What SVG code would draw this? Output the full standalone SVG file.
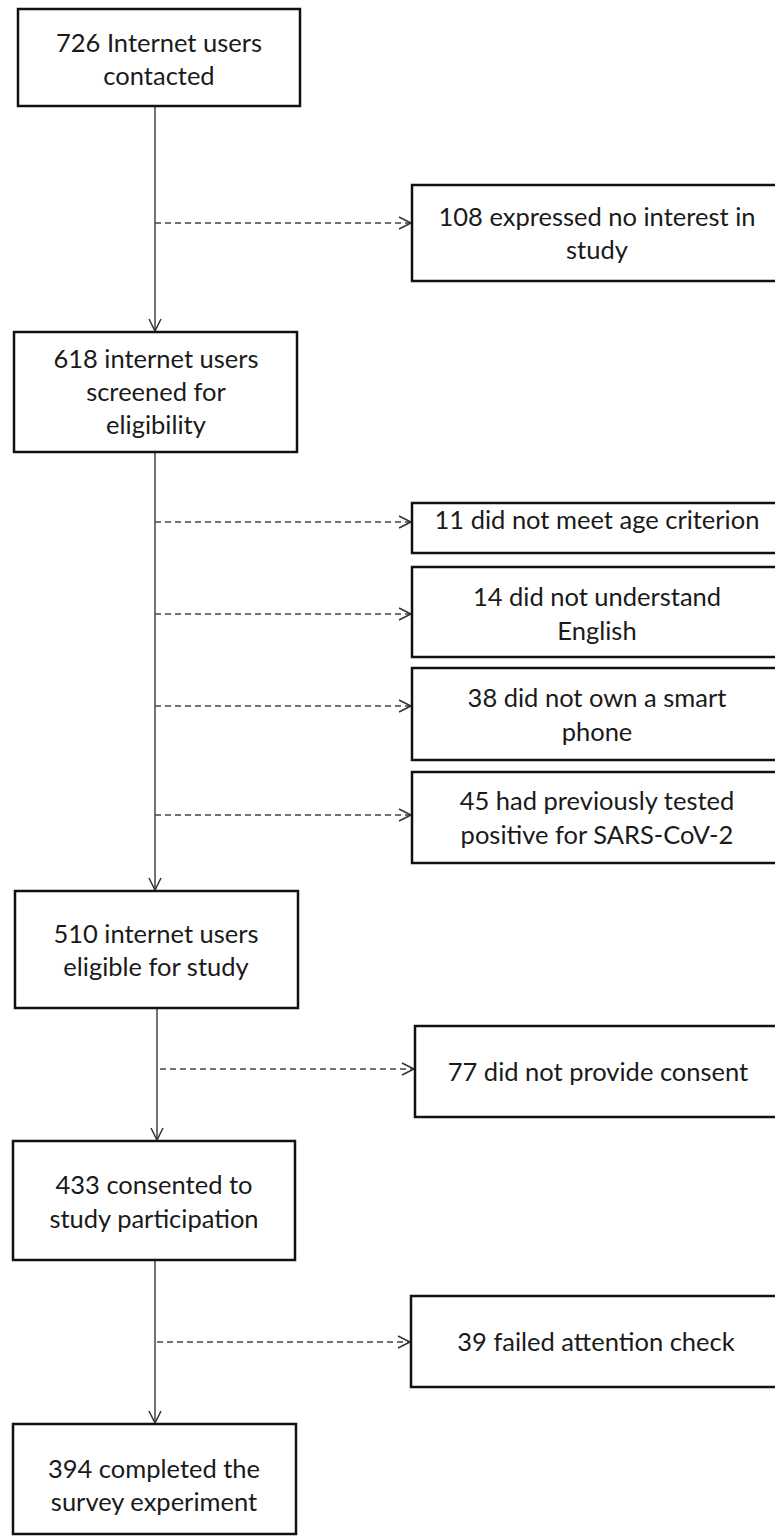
<svg xmlns="http://www.w3.org/2000/svg" width="775" height="1536" viewBox="0 0 775 1536">
<defs>
<style>
.box{fill:#fff;stroke:#111;stroke-width:2.5}
.t{font-family:Lato,"Liberation Sans",sans-serif;font-size:25.5px;fill:#1a1a1a;text-anchor:middle}
.solid{stroke:#444;stroke-width:1.5;fill:none}
.dash{stroke:#444;stroke-width:1.5;fill:none;stroke-dasharray:6 4}
</style>
<marker id="arr" markerUnits="userSpaceOnUse" markerWidth="16" markerHeight="16" refX="13" refY="7" orient="auto" viewBox="0 0 16 16">
<path d="M1,1 L13,7 L1,13" fill="none" stroke="#333" stroke-width="1.5"/>
</marker>
</defs>
<rect width="775" height="1536" fill="#fff"/>
<g id="connectors">
<line class="solid" x1="155" y1="106" x2="155" y2="331" marker-end="url(#arr)"/>
<line class="solid" x1="155" y1="452" x2="155" y2="890" marker-end="url(#arr)"/>
<line class="solid" x1="157" y1="1008" x2="157" y2="1140" marker-end="url(#arr)"/>
<line class="solid" x1="155" y1="1260" x2="155" y2="1423" marker-end="url(#arr)"/>
<line class="dash" x1="155" y1="223" x2="411" y2="223" marker-end="url(#arr)"/>
<line class="dash" x1="155" y1="522" x2="411" y2="522" marker-end="url(#arr)"/>
<line class="dash" x1="155" y1="614" x2="411" y2="614" marker-end="url(#arr)"/>
<line class="dash" x1="155" y1="706" x2="411" y2="706" marker-end="url(#arr)"/>
<line class="dash" x1="155" y1="815" x2="411" y2="815" marker-end="url(#arr)"/>
<line class="dash" x1="160" y1="1069" x2="414" y2="1069" marker-end="url(#arr)"/>
<line class="dash" x1="157" y1="1342" x2="410" y2="1342" marker-end="url(#arr)"/>
</g>
<g id="n1"><rect class="box" x="18" y="9" width="282" height="97"/>
<text class="t" x="159" y="52">726 Internet users</text><text class="t" x="159" y="85">contacted</text></g>
<g id="n2"><rect class="box" x="412" y="185" width="370" height="96"/>
<text class="t" x="597" y="226">108 expressed no interest in</text><text class="t" x="597" y="259">study</text></g>
<g id="n3"><rect class="box" x="14" y="332" width="283" height="120"/>
<text class="t" x="156" y="368">618 internet users</text><text class="t" x="156" y="401">screened for</text><text class="t" x="156" y="434">eligibility</text></g>
<g id="n4"><rect class="box" x="412" y="503" width="370" height="50"/>
<text class="t" x="597" y="529">11 did not meet age criterion</text></g>
<g id="n5"><rect class="box" x="412" y="567" width="370" height="90"/>
<text class="t" x="597" y="606">14 did not understand</text><text class="t" x="597" y="640">English</text></g>
<g id="n6"><rect class="box" x="412" y="668" width="370" height="92"/>
<text class="t" x="597" y="707">38 did not own a smart</text><text class="t" x="597" y="741">phone</text></g>
<g id="n7"><rect class="box" x="412" y="772" width="370" height="91"/>
<text class="t" x="597" y="810">45 had previously tested</text><text class="t" x="597" y="844">positive for SARS-CoV-2</text></g>
<g id="n8"><rect class="box" x="15" y="891" width="283" height="117"/>
<text class="t" x="156" y="943">510 internet users</text><text class="t" x="156" y="976">eligible for study</text></g>
<g id="n9"><rect class="box" x="415" y="1026" width="367" height="91"/>
<text class="t" x="598" y="1081">77 did not provide consent</text></g>
<g id="n10"><rect class="box" x="13" y="1141" width="282" height="119"/>
<text class="t" x="154" y="1194">433 consented to</text><text class="t" x="154" y="1228">study participation</text></g>
<g id="n11"><rect class="box" x="411" y="1296" width="371" height="91"/>
<text class="t" x="596" y="1351">39 failed attention check</text></g>
<g id="n12"><rect class="box" x="13" y="1424" width="283" height="110"/>
<text class="t" x="154" y="1478">394 completed the</text><text class="t" x="154" y="1511">survey experiment</text></g>
</svg>
